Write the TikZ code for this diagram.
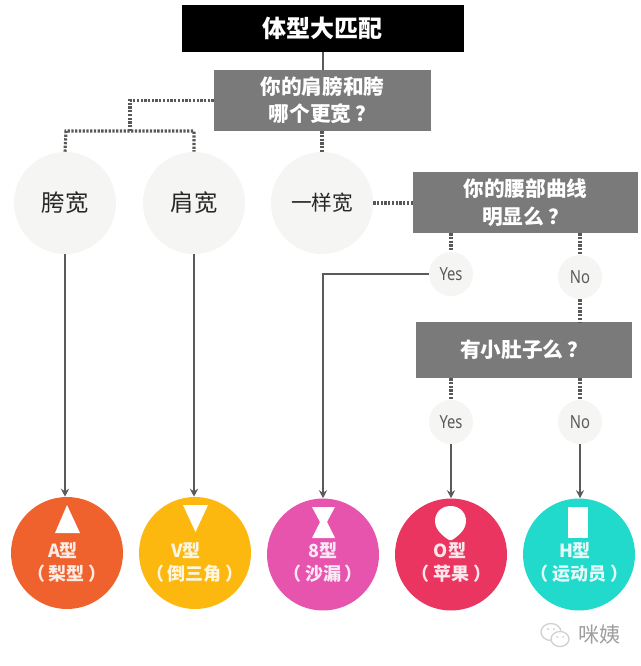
\documentclass[tikz,border=0pt]{standalone}
\usepackage{fontspec}
\setmainfont{Noto Sans CJK SC}
\newfontfamily\latinf[FakeStretch=0.82]{Noto Sans}
\usetikzlibrary{arrows.meta}
\definecolor{boxgray}{HTML}{7A7A7A}
\definecolor{softc}{HTML}{F5F5F3}
\definecolor{linec}{HTML}{5A5A5A}
\definecolor{dotc}{HTML}{585858}
\definecolor{corange}{HTML}{F0622D}
\definecolor{cyellow}{HTML}{FCB80F}
\definecolor{cpink}{HTML}{E654AE}
\definecolor{cred}{HTML}{E9355F}
\definecolor{cteal}{HTML}{22DACB}
\newcommand{\parenlabel}[1]{（\hspace{3pt}#1\hspace{3pt}）}
\tikzset{
  titlebox/.style={fill=black,text=white,font=\fontsize{18}{22}\selectfont\bfseries,minimum width=211.5pt,minimum height=35.25pt,inner sep=0pt},
  qbox/.style={fill=boxgray,text=white,font=\fontsize{15.5}{20.5}\selectfont\bfseries,align=center,inner sep=0pt},
  softcircle/.style={circle,fill=softc,minimum size=76.5pt,inner sep=0pt,text=black!85,font=\fontsize{17.5}{20}\selectfont},
  yncircle/.style={circle,fill=softc,minimum size=33pt,inner sep=0pt,text=linec,font=\latinf\fontsize{13.5}{16}\selectfont\bfseries},
  typecircle/.style={circle,minimum size=84pt,inner sep=0pt},
  typelabel/.style={text=white,text opacity=.88,font=\fontsize{13.5}{17}\selectfont\bfseries,align=center,inner sep=0pt},
  dotline/.style={draw=dotc,line width=2.3pt,dash pattern=on 1.7pt off 1.1pt},
  solidline/.style={draw=linec,line width=1.5pt},
  arrowline/.style={solidline,-{Stealth[length=6pt,width=6pt]}},
  glyphwhite/.style={fill=white,draw=none},
}
\begin{document}
\begin{tikzpicture}[x=0.75pt,y=-0.75pt]
\useasboundingbox (0,0) rectangle (640,666);
% boxes
\node[titlebox] (title) at (322.5,28.5) {体型大匹配};
\node[qbox,minimum width=162.75pt,minimum height=45.75pt] (q1) at (322.5,100.5) {你的肩膀和胯\\哪个更宽\hspace{3pt}？};
\node[qbox,minimum width=168.75pt,minimum height=45.75pt] (q2) at (525.5,202.5) {你的腰部曲线\\明显么\hspace{3pt}？};
\node[qbox,minimum width=162pt,minimum height=42pt] (q3) at (524,350) {有小肚子么\hspace{3pt}？};
% soft circles
\node[softcircle] (hip) at (65,203) {胯宽};
\node[softcircle] (sho) at (194,203) {肩宽};
\node[softcircle,font=\fontsize{15.5}{20}\selectfont] (same) at (322,203) {一样宽};
\node[yncircle] (y1) at (451,274) {Yes};
\node[yncircle] (n1) at (580,277) {No};
\node[yncircle] (y2) at (451,422) {Yes};
\node[yncircle] (n2) at (580,422) {No};
% type circles
\node[typecircle,fill=corange] (ta) at (67,553) {};
\node[typecircle,fill=cyellow] (tv) at (195,553) {};
\node[typecircle,fill=cpink] (t8) at (323,554.5) {};
\node[typecircle,fill=cred] (to) at (451,554.5) {};
\node[typecircle,fill=cteal] (th) at (579,554.5) {};
% shapes in circles
\fill[glyphwhite] (67,505) -- (80,533) -- (55,533) -- cycle;
\fill[glyphwhite] (183,505) -- (208,505) -- (195.5,532) -- cycle;
\fill[glyphwhite] (312,507) -- (335,507) -- (327,522) -- (335,538) -- (312,538) -- (320,522) -- cycle;
\fill[glyphwhite] (450.5,506) .. controls (460,506) and (466,513) .. (466,521)
  .. controls (466,530) and (458,536) .. (452,540) -- (449,540)
  .. controls (443,536) and (435,530) .. (435,521)
  .. controls (435,513) and (441,506) .. (450.5,506) -- cycle;
\fill[glyphwhite] (568,507) rectangle (588,538);
% labels
\node[typelabel] (la1) at (63,551) {A型};
\node[typelabel] (la2) at (67,574) {\parenlabel{梨型}};
\node[typelabel] (lv1) at (186,551) {V型};
\node[typelabel] (lv2) at (195,574) {\parenlabel{倒三角}};
\node[typelabel] (l81) at (323,551) {8型};
\node[typelabel] (l82) at (323,574) {\parenlabel{沙漏}};
\node[typelabel] (lo1) at (450,551) {O型};
\node[typelabel] (lo2) at (451,574) {\parenlabel{苹果}};
\node[typelabel] (lh1) at (575,551) {H型};
\node[typelabel] (lh2) at (579,574) {\parenlabel{运动员}};
% connectors
\draw[solidline] (title.south) -- (q1.north);
\coordinate (junc) at (130,131);
\coordinate (jleft) at (66,131);
\coordinate (jright) at (194,131);
\draw[dotline] (q1.west) -- (130,100.5) -- (junc);
\draw[dotline] (hip.north) -- (jleft) -- (jright) -- (sho.north);
\draw[dotline] (q1.south -| same) -- (same.north);
\draw[dotline] (same.east) -- (q2.west |- same);
\draw[dotline] (q2.south -| y1) -- (y1.north);
\draw[dotline] (q2.south -| n1) -- (n1.north);
\draw[dotline] (n1.south) -- (q3.north -| n1);
\draw[dotline] (q3.south -| y2) -- (y2.north);
\draw[dotline] (q3.south -| n2) -- (n2.north);
\draw[arrowline] (hip.south) -- (ta.north -| hip);
\draw[arrowline] (sho.south) -- (tv.north -| sho);
\draw[arrowline] (y1.west) -| (t8.north);
\draw[arrowline] (y2.south) -- (to.north);
\draw[arrowline] (n2.south) -- (th.north -| n2);
% watermark
\draw[black!18,line width=1pt,fill=white] (551,632) ellipse[x radius=10,y radius=8.5];
\draw[black!18,line width=1pt,fill=white] (560,639) ellipse[x radius=9,y radius=7.5];
\fill[black!18] (548,629) circle[radius=1.2] (554,629) circle[radius=1.2] (557,637) circle[radius=1] (563,637) circle[radius=1];
\node[text=black!38,inner sep=0pt,font=\fontsize{15.75}{18}\selectfont] (wm) at (599,635) {咪姨};
\end{tikzpicture}
\end{document}
